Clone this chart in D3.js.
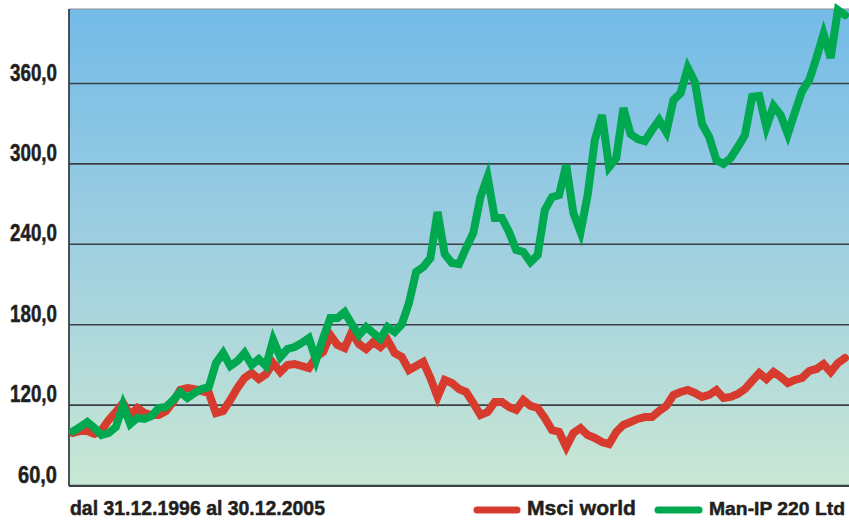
<!DOCTYPE html>
<html>
<head>
<meta charset="utf-8">
<script src="https://cdn.jsdelivr.net/npm/d3@7"></script>
<style>
  html, body { margin: 0; padding: 0; background: #fff; }
  svg { display: block; }
  text { font-family: "Liberation Sans Narrow", "Liberation Sans", "DejaVu Sans Condensed", sans-serif; font-weight: bold; fill: #231f20; stroke: #231f20; stroke-width: 0.5; }
</style>
</head>
<body>
<div id="grafico"></div>
<script>
// valori mensili dal 31.12.1996 al 30.12.2005 (base 100)
const msciWorld = [
  98.8, 100.3, 100.3, 98.1, 101, 108.5, 114.5, 121.2, 112.2, 117.5,
  113.7, 112.2, 112.2, 115.2, 121.9, 130.9, 132.4, 131.6, 130.1, 128.7,
  113.7, 115.2, 123.4, 132.4, 139.9, 143.6, 139.1, 142.8, 151, 144.3,
  149.6, 150.3, 148.8, 147.3, 155.5, 159.3, 171.9, 164.5, 162.2, 174.2,
  165.2, 161.5, 166.7, 163, 168.2, 158.5, 155.5, 145.8, 148.8, 151.8,
  139.9, 125.7, 138.4, 136.1, 131.6, 129.4, 121.2, 112.2, 114.5, 121.9,
  121.9, 118.2, 116, 123.4, 119, 117.5, 110, 101, 99.6, 88.4,
  98.8, 102.5, 97.3, 95.1, 92.1, 90.6, 99.6, 104.8, 107, 109.3,
  110.7, 110.7, 115.2, 119, 127.2, 129.4, 130.9, 128.7, 125.7, 127.2,
  130.9, 124.9, 125.7, 127.9, 131.6, 137.6, 143.6, 139.1, 144.3, 140.6,
  136.1, 138.4, 139.9, 145.1, 146.6, 150.3, 144.3, 151, 154.8
];

const manIP220 = [
  100, 103.3, 107, 102.5, 97.3, 98.8, 103.3, 119.7, 105.5, 110,
  109.3, 111.5, 117.5, 118.2, 123.4, 129.4, 124.9, 128.7, 131.6, 133.1,
  151, 158.5, 148.8, 152.5, 158.5, 149.6, 154, 148.8, 168.2, 155.5,
  161.5, 163, 166, 169.7, 153.3, 169.7, 184.6, 184.6, 189.1, 180.1,
  171.9, 177.9, 173.4, 169, 177.9, 174.2, 180.1, 195.8, 219, 222.7,
  229.4, 263.7, 232.4, 225.7, 224.9, 236.9, 248, 274.9, 289.9, 259.3,
  259.3, 248.8, 235.4, 233.9, 226.4, 231.6, 265.2, 274.9, 276.4, 298.8,
  263, 248.8, 276.4, 317.5, 336.1, 297.3, 304, 341.3, 321.9, 318.2,
  316.7, 324.9, 332.4, 323.4, 347.3, 352.5, 371.2, 360.7, 329.4, 319.7,
  302.5, 299.6, 304, 312.2, 321.2, 349.6, 350.3, 327.2, 342.8, 336.1,
  321.9, 338.4, 354, 362.2, 378.7, 396.6, 378.7, 414.5, 410.7
];

const tickValori = [60, 120, 180, 240, 300, 360];
const periodo = "dal 31.12.1996 al 30.12.2005";
const serie = [
  { nome: "Msci world", valori: msciWorld, colore: "#d63b2d" },
  { nome: "Man-IP 220 Ltd", valori: manIP220, colore: "#00a84f" }
];

const width = 849;
const height = 520;
const area = { left: 69, top: 9, right: 849, bottom: 486 };

const svg = d3
  .select("#grafico")
  .append("svg")
  .attr("width", width)
  .attr("height", height);

const xScale = d3
  .scaleLinear()
  .domain([0, manIP220.length - 1])
  .range([73, 845]);

const yScale = d3.scaleLinear().domain([60, 360]).range([485, 83]);

// sfondo sfumato
const grad = svg
  .append("defs")
  .append("linearGradient")
  .attr("id", "sfondo")
  .attr("x1", 0)
  .attr("y1", 0)
  .attr("x2", 0)
  .attr("y2", 1);
grad.append("stop").attr("offset", "0%").attr("stop-color", "#73bbe8");
grad.append("stop").attr("offset", "50%").attr("stop-color", "#9fcfe0");
grad.append("stop").attr("offset", "100%").attr("stop-color", "#c9e7d4");

svg
  .append("rect")
  .attr("x", area.left)
  .attr("y", area.top)
  .attr("width", area.right - area.left)
  .attr("height", area.bottom - area.top)
  .attr("fill", "url(#sfondo)");

// griglia orizzontale
const yAxis = d3
  .axisLeft(yScale)
  .tickValues(tickValori)
  .tickSize(-(area.right - area.left))
  .tickFormat((d) => d3.format(".1f")(d).replace(".", ","));

const gy = svg
  .append("g")
  .attr("transform", `translate(${area.left},0)`)
  .call(yAxis)
  .attr("font-family", null)
  .attr("font-size", null);
gy.select(".domain").remove();
gy.selectAll(".tick line")
  .attr("stroke", "#3a4045")
  .attr("stroke-width", 1.6);
gy.selectAll(".tick text")
  .attr("x", -12)
  .attr("y", -3)
  .attr("dy", null)
  .attr("font-size", 23)
  .attr("textLength", (d) => (d < 100 ? 39 : 47))
  .attr("lengthAdjust", "spacingAndGlyphs");

// bordi
svg
  .append("line")
  .attr("x1", area.left)
  .attr("x2", area.right)
  .attr("y1", area.top)
  .attr("y2", area.top)
  .attr("stroke", "#8a8f93")
  .attr("stroke-width", 1.2);
svg
  .append("line")
  .attr("x1", area.left)
  .attr("x2", area.right)
  .attr("y1", area.bottom)
  .attr("y2", area.bottom)
  .attr("stroke", "#3a4045")
  .attr("stroke-width", 1.8);
svg
  .append("line")
  .attr("x1", area.left)
  .attr("x2", area.left)
  .attr("y1", area.top)
  .attr("y2", area.bottom)
  .attr("stroke", "#3a4045")
  .attr("stroke-width", 1.8);

// linee
const line = d3
  .line()
  .x((_, i) => xScale(i))
  .y((v) => yScale(v));

serie.forEach((s) => {
  svg
    .append("path")
    .datum(s.valori)
    .attr("fill", "none")
    .attr("stroke", s.colore)
    .attr("stroke-width", 8)
    .attr("stroke-linejoin", "miter")
    .attr("stroke-miterlimit", 4)
    .attr("stroke-linecap", "round")
    .attr("d", line);
});

// testo periodo
svg
  .append("text")
  .attr("x", 70)
  .attr("y", 515)
  .attr("font-size", 21)
  .attr("textLength", 255)
  .attr("lengthAdjust", "spacingAndGlyphs")
  .text(periodo);

// legenda
const legenda = [
  { x1: 477, x2: 517, tx: 527, tw: 109, fs: 21 },
  { x1: 658, x2: 699, tx: 709, tw: 136, fs: 19 }
];
serie.forEach((s, i) => {
  const l = legenda[i];
  svg
    .append("line")
    .attr("x1", l.x1)
    .attr("x2", l.x2)
    .attr("y1", 510)
    .attr("y2", 510)
    .attr("stroke", s.colore)
    .attr("stroke-width", 7)
    .attr("stroke-linecap", "round");
  svg
    .append("text")
    .attr("x", l.tx)
    .attr("y", 515)
    .attr("font-size", l.fs)
    .attr("textLength", l.tw)
    .attr("lengthAdjust", "spacingAndGlyphs")
    .text(s.nome);
});
</script>
</body>
</html>
